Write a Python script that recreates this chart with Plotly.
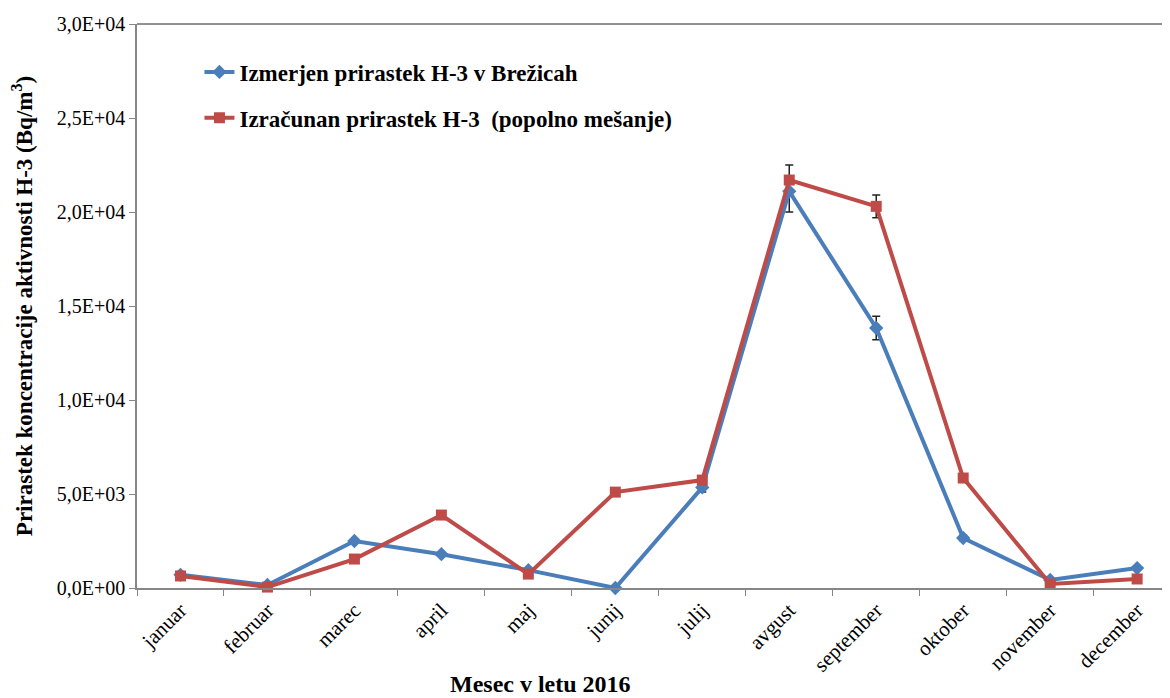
"""Prirastek koncentracije aktivnosti H-3 po mesecih (2016)."""

import plotly.graph_objects as go

months = ["januar", "februar", "marec", "april", "maj", "junij",
          "julij", "avgust", "september", "oktober", "november", "december"]

measured = [700, 160, 2500, 1800, 950, 0, 5350, 21100, 13830, 2660, 430, 1060]
measured_err_plus = [0, 0, 0, 0, 0, 0, 250, 1400, 620, 150, 0, 0]
measured_err_minus = [0, 0, 0, 0, 0, 0, 250, 1100, 620, 150, 0, 0]

calculated = [640, 50, 1540, 3880, 740, 5100, 5740, 21700, 20300, 5850, 210, 480]
calculated_err = [0, 0, 0, 0, 0, 0, 0, 0, 600, 0, 0, 0]

y_ticks = [0, 5000, 10000, 15000, 20000, 25000, 30000]
y_ticktext = ["0,0E+00", "5,0E+03", "1,0E+04", "1,5E+04", "2,0E+04", "2,5E+04", "3,0E+04"]

BLUE = "#4a7ebb"
RED = "#be4b48"
FONT = "Liberation Serif"

fig = go.Figure()
fig.add_trace(go.Scatter(
    x=months, y=measured,
    name="Izmerjen prirastek H-3 v Brežicah",
    mode="lines+markers",
    line={"color": BLUE, "width": 4},
    marker={"symbol": "diamond", "size": 11, "color": BLUE},
    error_y={"type": "data", "array": measured_err_plus,
             "arrayminus": measured_err_minus, "symmetric": False, "visible": True,
             "color": "#222", "thickness": 1.5, "width": 4},
    cliponaxis=False,
    legendgroup="a",
))
fig.add_trace(go.Scatter(
    x=months, y=calculated,
    name="Izračunan prirastek H-3  (popolno mešanje)",
    mode="lines+markers",
    line={"color": RED, "width": 4},
    marker={"symbol": "square", "size": 11, "color": RED},
    error_y={"type": "data", "array": calculated_err, "visible": True,
             "color": "#222", "thickness": 1.5, "width": 4},
    cliponaxis=False,
    legendgroup="b",
))

fig.add_shape(type="line", xref="paper", yref="paper", x0=0, x1=1, y0=1, y1=1,
              line={"color": "#222", "width": 1})
fig.add_annotation(text="<b>Mesec v letu 2016</b>", xref="paper", yref="paper",
                   x=0.388, y=-0.170, xanchor="center", yanchor="middle",
                   showarrow=False,
                   font={"family": FONT, "size": 24, "color": "black"})

# the page adds an 8 px body margin, so margins are reduced by that amount
fig.update_layout(
    width=1170, height=698,
    paper_bgcolor="white", plot_bgcolor="white",
    margin={"l": 129, "r": 0, "t": 16, "b": 118},
    font={"family": FONT, "color": "black"},
    showlegend=True,
    legend={"x": 0.06, "y": 0.953, "xanchor": "left", "yanchor": "top",
            "font": {"family": FONT, "size": 23, "color": "black", "weight": "bold"},
            "traceorder": "grouped", "tracegroupgap": 13,
            "bgcolor": "rgba(0,0,0,0)"},
    xaxis={"type": "category", "range": [-0.5, 11.47], "automargin": False,
           "showline": True, "linecolor": "#868686", "linewidth": 1.5,
           "ticks": "outside", "tickson": "boundaries", "ticklen": 6,
           "tickcolor": "#868686", "tickangle": -45,
           "tickfont": {"family": FONT, "size": 21}, "showgrid": False},
    yaxis={"range": [0, 30000], "tickvals": y_ticks, "ticktext": y_ticktext,
           "automargin": False,
           "showline": True, "linecolor": "#868686", "linewidth": 1.5,
           "ticks": "outside", "ticklen": 6, "tickcolor": "#868686",
           "tickfont": {"family": FONT, "size": 20}, "showgrid": False,
           "zeroline": False,
           "title": {"text": "<b>Prirastek koncentracije aktivnosti H-3 (Bq/m<sup>3</sup>)</b>",
                     "font": {"family": FONT, "size": 23}, "standoff": 22}},
)

fig.write_html("out.html")
